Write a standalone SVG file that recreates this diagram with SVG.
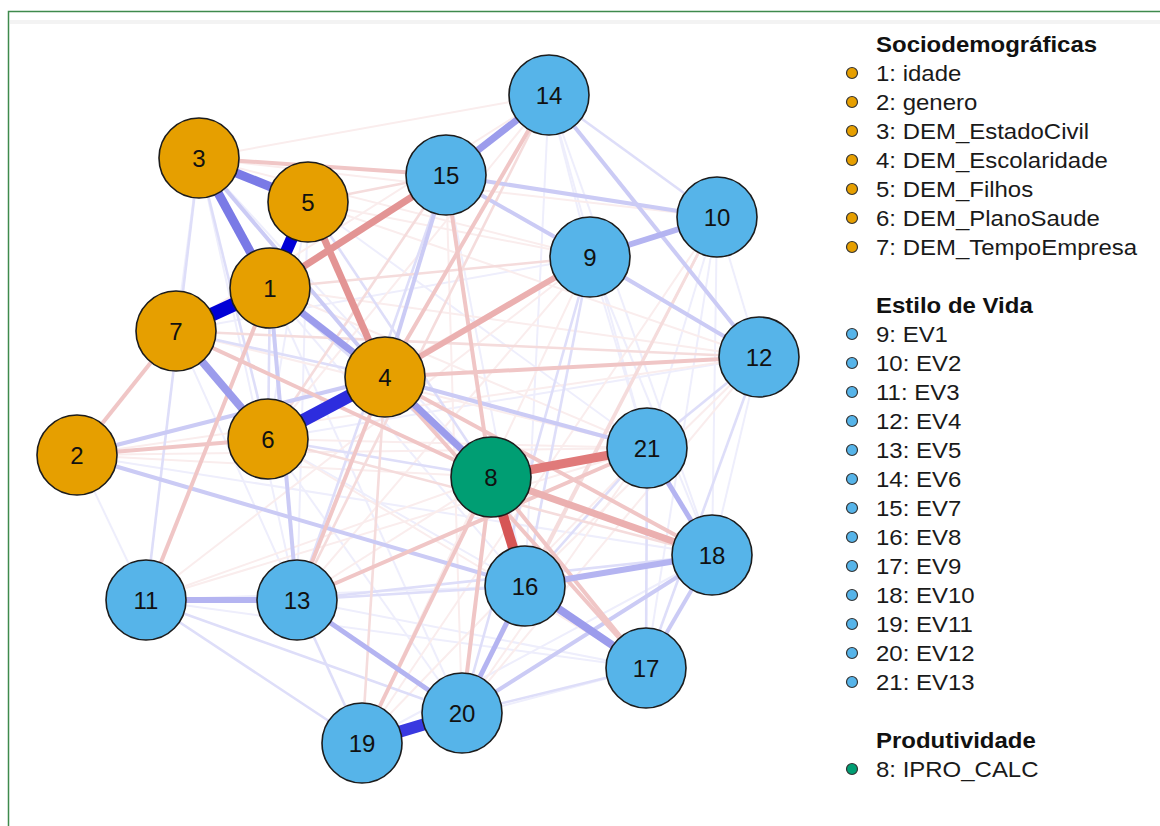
<svg xmlns="http://www.w3.org/2000/svg" width="1160" height="826" viewBox="0 0 1160 826">
<style>
.frame{fill:#ffffff;stroke:#3f8a4c;stroke-width:1.5}
.band{fill:#f3f3f3}
line{stroke-linecap:butt;fill:none}
.B0{stroke:#0000d6}.B1{stroke:#2d2dde}.B2{stroke:#7a7ae6}.B3{stroke:#9c9cec}.B4{stroke:#b4b4f1}.B5{stroke:#cbcbf5}.B6{stroke:#dedef9}.B7{stroke:#eeeefc}
.R0{stroke:#d65555}.R1{stroke:#e07a7a}.R2{stroke:#e39494}.R3{stroke:#ebb0b0}.R4{stroke:#f0c6c6}.R5{stroke:#f5dcdc}.R6{stroke:#faeded}
.w2 line{stroke-width:2}.w3 line{stroke-width:2.6}.w4 line{stroke-width:4}
.node circle{stroke:#1c1c1c;stroke-width:1.6}
.so{fill:#e69f00}.ev{fill:#56b4e9}.pr{fill:#009e73}
.lbl{font-family:"Liberation Sans",Arial,sans-serif;font-size:24px;fill:#111;text-anchor:middle}
.lg{font-family:"Liberation Sans",Arial,sans-serif;font-size:22px;fill:#1a1a1a}
.lh{font-family:"Liberation Sans",Arial,sans-serif;font-size:22px;font-weight:bold;fill:#111}
.dot{stroke:#333;stroke-width:1.2}
</style>
<rect class="frame" x="8.5" y="11.5" width="1170" height="840"/>
<rect class="band" x="10" y="20" width="1150" height="4"/>
<g id="connectors">
<g class="w2">
<line class="B7" x1="549" y1="95" x2="590" y2="257"/>
<line class="B7" x1="549" y1="95" x2="647" y2="448"/>
<line class="B7" x1="549" y1="95" x2="525" y2="586"/>
<line class="B7" x1="549" y1="95" x2="712" y2="555"/>
<line class="B7" x1="717" y1="217" x2="712" y2="555"/>
<line class="B7" x1="717" y1="217" x2="647" y2="448"/>
<line class="B7" x1="717" y1="217" x2="646" y2="668"/>
<line class="B7" x1="717" y1="217" x2="759" y2="357"/>
<line class="B7" x1="759" y1="357" x2="712" y2="555"/>
<line class="B7" x1="590" y1="257" x2="712" y2="555"/>
<line class="B7" x1="590" y1="257" x2="647" y2="448"/>
<line class="B7" x1="446" y1="175" x2="525" y2="586"/>
<line class="B7" x1="446" y1="175" x2="759" y2="357"/>
<line class="B7" x1="199" y1="158" x2="176" y2="331"/>
<line class="B7" x1="308" y1="202" x2="268" y2="439"/>
<line class="B7" x1="308" y1="202" x2="297" y2="600"/>
<line class="B7" x1="176" y1="331" x2="297" y2="600"/>
<line class="B7" x1="77" y1="455" x2="146" y2="600"/>
<line class="B7" x1="268" y1="439" x2="525" y2="586"/>
<line class="B7" x1="268" y1="439" x2="462" y2="713"/>
<line class="B7" x1="297" y1="600" x2="646" y2="668"/>
<line class="B7" x1="146" y1="600" x2="525" y2="586"/>
<line class="B7" x1="77" y1="455" x2="712" y2="555"/>
<line class="B7" x1="270" y1="288" x2="525" y2="586"/>
<line class="B7" x1="199" y1="158" x2="491" y2="477"/>
<line class="B7" x1="308" y1="202" x2="647" y2="448"/>
<line class="B7" x1="176" y1="331" x2="590" y2="257"/>
<line class="B7" x1="146" y1="600" x2="646" y2="668"/>
<line class="B7" x1="362" y1="743" x2="646" y2="668"/>
<line class="B7" x1="362" y1="743" x2="712" y2="555"/>
<line class="B7" x1="268" y1="439" x2="759" y2="357"/>
<line class="B7" x1="199" y1="158" x2="297" y2="600"/>
<line class="B7" x1="270" y1="288" x2="462" y2="713"/>
<line class="R6" x1="199" y1="158" x2="549" y2="95"/>
<line class="R6" x1="308" y1="202" x2="590" y2="257"/>
<line class="R6" x1="308" y1="202" x2="759" y2="357"/>
<line class="R6" x1="199" y1="158" x2="590" y2="257"/>
<line class="R6" x1="270" y1="288" x2="759" y2="357"/>
<line class="R6" x1="176" y1="331" x2="647" y2="448"/>
<line class="R6" x1="77" y1="455" x2="647" y2="448"/>
<line class="R6" x1="77" y1="455" x2="491" y2="477"/>
<line class="R6" x1="268" y1="439" x2="647" y2="448"/>
<line class="R6" x1="297" y1="600" x2="491" y2="477"/>
<line class="R6" x1="362" y1="743" x2="590" y2="257"/>
<line class="R6" x1="717" y1="217" x2="362" y2="743"/>
<line class="R6" x1="146" y1="600" x2="590" y2="257"/>
<line class="R6" x1="268" y1="439" x2="646" y2="668"/>
<line class="R6" x1="270" y1="288" x2="647" y2="448"/>
<line class="R6" x1="525" y1="586" x2="759" y2="357"/>
<line class="R6" x1="462" y1="713" x2="759" y2="357"/>
<line class="R6" x1="549" y1="95" x2="268" y2="439"/>
<line class="R6" x1="446" y1="175" x2="462" y2="713"/>
<line class="R6" x1="362" y1="743" x2="647" y2="448"/>
<line class="R6" x1="77" y1="455" x2="759" y2="357"/>
<line class="R6" x1="199" y1="158" x2="717" y2="217"/>
<line class="R6" x1="176" y1="331" x2="549" y2="95"/>
<line class="R6" x1="146" y1="600" x2="647" y2="448"/>
<line class="R6" x1="297" y1="600" x2="590" y2="257"/>
<line class="R6" x1="462" y1="713" x2="647" y2="448"/>
<line class="R6" x1="268" y1="439" x2="590" y2="257"/>
<line class="R6" x1="146" y1="600" x2="491" y2="477"/>
</g>
<g class="w3">
<line class="B6" x1="549" y1="95" x2="717" y2="217"/>
<line class="B6" x1="446" y1="175" x2="297" y2="600"/>
<line class="B6" x1="270" y1="288" x2="268" y2="439"/>
<line class="B6" x1="199" y1="158" x2="146" y2="600"/>
<line class="B6" x1="199" y1="158" x2="268" y2="439"/>
<line class="B6" x1="176" y1="331" x2="385" y2="377"/>
<line class="B6" x1="146" y1="600" x2="462" y2="713"/>
<line class="B6" x1="146" y1="600" x2="362" y2="743"/>
<line class="B6" x1="297" y1="600" x2="525" y2="586"/>
<line class="B6" x1="297" y1="600" x2="362" y2="743"/>
<line class="B6" x1="462" y1="713" x2="646" y2="668"/>
<line class="B6" x1="525" y1="586" x2="647" y2="448"/>
<line class="B6" x1="268" y1="439" x2="491" y2="477"/>
<line class="B6" x1="270" y1="288" x2="491" y2="477"/>
<line class="B6" x1="646" y1="668" x2="759" y2="357"/>
<line class="B6" x1="646" y1="668" x2="647" y2="448"/>
<line class="B6" x1="759" y1="357" x2="647" y2="448"/>
<line class="B6" x1="590" y1="257" x2="525" y2="586"/>
<line class="B6" x1="590" y1="257" x2="462" y2="713"/>
<line class="B6" x1="308" y1="202" x2="491" y2="477"/>
<line class="B6" x1="297" y1="600" x2="712" y2="555"/>
<line class="R5" x1="308" y1="202" x2="446" y2="175"/>
<line class="R5" x1="759" y1="357" x2="176" y2="331"/>
<line class="R5" x1="268" y1="439" x2="712" y2="555"/>
<line class="R5" x1="362" y1="743" x2="385" y2="377"/>
<line class="R5" x1="717" y1="217" x2="462" y2="713"/>
<line class="R5" x1="717" y1="217" x2="525" y2="586"/>
<line class="R5" x1="549" y1="95" x2="297" y2="600"/>
<line class="R5" x1="446" y1="175" x2="268" y2="439"/>
<line class="R5" x1="270" y1="288" x2="590" y2="257"/>
</g>
<g class="w4">
<line class="B5" x1="590" y1="257" x2="759" y2="357"/>
<line class="B5" x1="446" y1="175" x2="717" y2="217"/>
<line class="B5" x1="712" y1="555" x2="646" y2="668"/>
<line class="B5" x1="446" y1="175" x2="590" y2="257"/>
<line class="B5" x1="77" y1="455" x2="385" y2="377"/>
<line class="B5" x1="77" y1="455" x2="525" y2="586"/>
<line class="B5" x1="446" y1="175" x2="385" y2="377"/>
<line class="B5" x1="549" y1="95" x2="759" y2="357"/>
<line class="B5" x1="199" y1="158" x2="385" y2="377"/>
<line class="B5" x1="270" y1="288" x2="297" y2="600"/>
<line class="B5" x1="385" y1="377" x2="647" y2="448"/>
<line class="B5" x1="462" y1="713" x2="712" y2="555"/>
<line class="R4" x1="176" y1="331" x2="77" y2="455"/>
<line class="R4" x1="77" y1="455" x2="268" y2="439"/>
<line class="R4" x1="270" y1="288" x2="146" y2="600"/>
<line class="R4" x1="385" y1="377" x2="297" y2="600"/>
<line class="R4" x1="176" y1="331" x2="491" y2="477"/>
<line class="R4" x1="385" y1="377" x2="759" y2="357"/>
<line class="R4" x1="462" y1="713" x2="491" y2="477"/>
<line class="R4" x1="362" y1="743" x2="491" y2="477"/>
<line class="R4" x1="549" y1="95" x2="385" y2="377"/>
<line class="R4" x1="446" y1="175" x2="491" y2="477"/>
<line class="R4" x1="491" y1="477" x2="646" y2="668"/>
<line class="R4" x1="385" y1="377" x2="646" y2="668"/>
<line class="R4" x1="385" y1="377" x2="712" y2="555"/>
<line class="R4" x1="199" y1="158" x2="446" y2="175"/>
<line class="R4" x1="297" y1="600" x2="647" y2="448"/>
</g>
<line class="B4" x1="146" y1="600" x2="297" y2="600" stroke-width="6"/>
<line class="B4" x1="297" y1="600" x2="462" y2="713" stroke-width="5"/>
<line class="B4" x1="590" y1="257" x2="717" y2="217" stroke-width="6"/>
<line class="B4" x1="525" y1="586" x2="712" y2="555" stroke-width="6"/>
<line class="B4" x1="525" y1="586" x2="462" y2="713" stroke-width="5"/>
<line class="B4" x1="647" y1="448" x2="712" y2="555" stroke-width="5"/>
<line class="B3" x1="270" y1="288" x2="385" y2="377" stroke-width="7"/>
<line class="B3" x1="385" y1="377" x2="491" y2="477" stroke-width="7"/>
<line class="B3" x1="549" y1="95" x2="446" y2="175" stroke-width="7"/>
<line class="B3" x1="525" y1="586" x2="646" y2="668" stroke-width="8"/>
<line class="B3" x1="176" y1="331" x2="268" y2="439" stroke-width="8"/>
<line class="B2" x1="199" y1="158" x2="308" y2="202" stroke-width="9"/>
<line class="B2" x1="199" y1="158" x2="270" y2="288" stroke-width="9"/>
<line class="R3" x1="491" y1="477" x2="712" y2="555" stroke-width="7"/>
<line class="R3" x1="385" y1="377" x2="590" y2="257" stroke-width="6"/>
<line class="R2" x1="308" y1="202" x2="385" y2="377" stroke-width="7"/>
<line class="R2" x1="446" y1="175" x2="270" y2="288" stroke-width="7"/>
<line class="R1" x1="491" y1="477" x2="647" y2="448" stroke-width="9"/>
<line class="R0" x1="491" y1="477" x2="525" y2="586" stroke-width="10"/>
<line class="B1" x1="385" y1="377" x2="268" y2="439" stroke-width="13"/>
<line class="B1" x1="362" y1="743" x2="462" y2="713" stroke-width="12" style="stroke:#3939e0"/>
<line class="B0" x1="270" y1="288" x2="176" y2="331" stroke-width="14"/>
<line class="B0" x1="270" y1="288" x2="308" y2="202" stroke-width="12"/>
</g>
<g id="n3" class="node"><circle class="so" cx="199" cy="158" r="40"/><text class="lbl" x="199" y="166.5">3</text></g>
<g id="n5" class="node"><circle class="so" cx="308" cy="202" r="40"/><text class="lbl" x="308" y="210.5">5</text></g>
<g id="n1" class="node"><circle class="so" cx="270" cy="288" r="40"/><text class="lbl" x="270" y="296.5">1</text></g>
<g id="n7" class="node"><circle class="so" cx="176" cy="331" r="40"/><text class="lbl" x="176" y="339.5">7</text></g>
<g id="n2" class="node"><circle class="so" cx="77" cy="455" r="40"/><text class="lbl" x="77" y="463.5">2</text></g>
<g id="n6" class="node"><circle class="so" cx="268" cy="439" r="40"/><text class="lbl" x="268" y="447.5">6</text></g>
<g id="n4" class="node"><circle class="so" cx="385" cy="377" r="40"/><text class="lbl" x="385" y="385.5">4</text></g>
<g id="n14" class="node"><circle class="ev" cx="549" cy="95" r="40"/><text class="lbl" x="549" y="103.5">14</text></g>
<g id="n15" class="node"><circle class="ev" cx="446" cy="175" r="40"/><text class="lbl" x="446" y="183.5">15</text></g>
<g id="n10" class="node"><circle class="ev" cx="717" cy="217" r="40"/><text class="lbl" x="717" y="225.5">10</text></g>
<g id="n9" class="node"><circle class="ev" cx="590" cy="257" r="40"/><text class="lbl" x="590" y="265.5">9</text></g>
<g id="n12" class="node"><circle class="ev" cx="759" cy="357" r="40"/><text class="lbl" x="759" y="365.5">12</text></g>
<g id="n21" class="node"><circle class="ev" cx="647" cy="448" r="40"/><text class="lbl" x="647" y="456.5">21</text></g>
<g id="n8" class="node"><circle class="pr" cx="491" cy="477" r="40"/><text class="lbl" x="491" y="485.5">8</text></g>
<g id="n18" class="node"><circle class="ev" cx="712" cy="555" r="40"/><text class="lbl" x="712" y="563.5">18</text></g>
<g id="n16" class="node"><circle class="ev" cx="525" cy="586" r="40"/><text class="lbl" x="525" y="594.5">16</text></g>
<g id="n11" class="node"><circle class="ev" cx="146" cy="600" r="40"/><text class="lbl" x="146" y="608.5">11</text></g>
<g id="n13" class="node"><circle class="ev" cx="297" cy="600" r="40"/><text class="lbl" x="297" y="608.5">13</text></g>
<g id="n17" class="node"><circle class="ev" cx="646" cy="668" r="40"/><text class="lbl" x="646" y="676.5">17</text></g>
<g id="n20" class="node"><circle class="ev" cx="462" cy="713" r="40"/><text class="lbl" x="462" y="721.5">20</text></g>
<g id="n19" class="node"><circle class="ev" cx="362" cy="743" r="40"/><text class="lbl" x="362" y="751.5">19</text></g>
<g id="legend">
<g class="dot">
<circle class="so" cx="852" cy="73" r="5.5"/><circle class="so" cx="852" cy="102" r="5.5"/><circle class="so" cx="852" cy="131" r="5.5"/><circle class="so" cx="852" cy="160" r="5.5"/><circle class="so" cx="852" cy="189" r="5.5"/><circle class="so" cx="852" cy="218" r="5.5"/><circle class="so" cx="852" cy="247" r="5.5"/>
<circle class="ev" cx="852" cy="334" r="5.5"/><circle class="ev" cx="852" cy="363" r="5.5"/><circle class="ev" cx="852" cy="392" r="5.5"/><circle class="ev" cx="852" cy="421" r="5.5"/><circle class="ev" cx="852" cy="450" r="5.5"/><circle class="ev" cx="852" cy="479" r="5.5"/><circle class="ev" cx="852" cy="508" r="5.5"/><circle class="ev" cx="852" cy="537" r="5.5"/><circle class="ev" cx="852" cy="566" r="5.5"/><circle class="ev" cx="852" cy="595" r="5.5"/><circle class="ev" cx="852" cy="624" r="5.5"/><circle class="ev" cx="852" cy="653" r="5.5"/><circle class="ev" cx="852" cy="682" r="5.5"/>
<circle class="pr" cx="852" cy="769" r="5.5"/>
</g>
<g transform="translate(876,0) scale(1.09,1)">
<text class="lh" x="0" y="52">Sociodemográficas</text>
<text class="lg" x="0" y="81">1: idade</text>
<text class="lg" x="0" y="110">2: genero</text>
<text class="lg" x="0" y="139">3: DEM_EstadoCivil</text>
<text class="lg" x="0" y="168">4: DEM_Escolaridade</text>
<text class="lg" x="0" y="197">5: DEM_Filhos</text>
<text class="lg" x="0" y="226">6: DEM_PlanoSaude</text>
<text class="lg" x="0" y="255">7: DEM_TempoEmpresa</text>
<text class="lh" x="0" y="313">Estilo de Vida</text>
<text class="lg" x="0" y="342">9: EV1</text>
<text class="lg" x="0" y="371">10: EV2</text>
<text class="lg" x="0" y="400">11: EV3</text>
<text class="lg" x="0" y="429">12: EV4</text>
<text class="lg" x="0" y="458">13: EV5</text>
<text class="lg" x="0" y="487">14: EV6</text>
<text class="lg" x="0" y="516">15: EV7</text>
<text class="lg" x="0" y="545">16: EV8</text>
<text class="lg" x="0" y="574">17: EV9</text>
<text class="lg" x="0" y="603">18: EV10</text>
<text class="lg" x="0" y="632">19: EV11</text>
<text class="lg" x="0" y="661">20: EV12</text>
<text class="lg" x="0" y="690">21: EV13</text>
<text class="lh" x="0" y="748">Produtividade</text>
<text class="lg" x="0" y="777">8: IPRO_CALC</text>
</g>
</g>
</svg>
